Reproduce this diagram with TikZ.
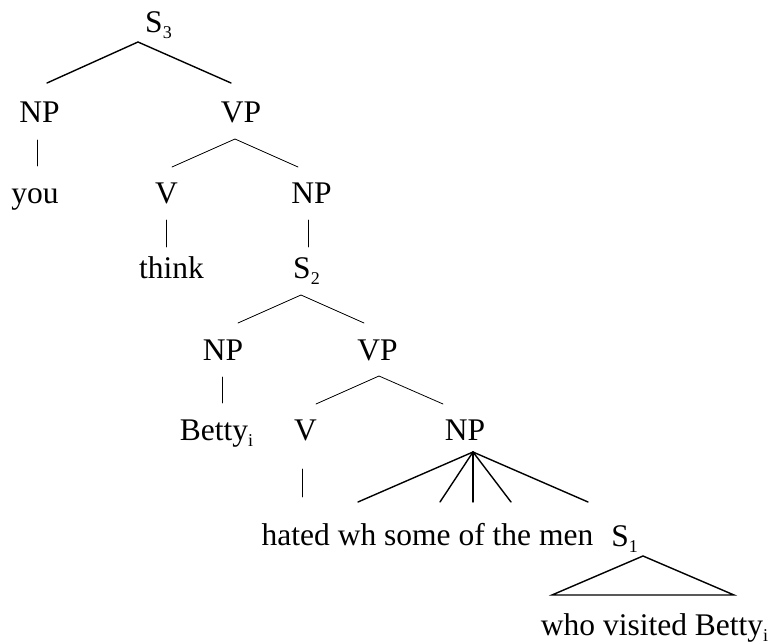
\documentclass[tikz,border=0pt]{standalone}
\usepackage{fontspec}
\setmainfont{Liberation Serif}
\newcommand{\lsub}[1]{\raisebox{-6pt}{\fontsize{18}{18}\selectfont #1}}
\tikzset{
  lbl/.style={anchor=base, inner sep=0pt, font=\fontsize{31.5}{34}\selectfont},
  edge/.style={line width=0.8pt, line cap=round},
  thick edge/.style={line width=1.4pt, line cap=round}
}
\begin{document}
\begin{tikzpicture}[x=1pt,y=-1pt]
\useasboundingbox (0,0) rectangle (773,644);
% labels
\node[lbl] (s3) at (158.5,33) {S\lsub{3}};
\node[lbl] (np1) at (39.5,123) {NP};
\node[lbl] (vp1) at (241,123) {VP};
\node[lbl] (you) at (35,204) {you};
\node[lbl] (v1) at (166.5,204) {V};
\node[lbl] (np2) at (311.5,204) {NP};
\node[lbl] (think) at (171.5,278) {think};
\node[lbl] (s2) at (306.5,278) {S\lsub{2}};
\node[lbl] (np3) at (223,360) {NP};
\node[lbl] (vp2) at (377.5,360) {VP};
\node[lbl] (betty) at (216.5,440) {Betty\lsub{i}};
\node[lbl] (v2) at (305.5,440) {V};
\node[lbl] (np4) at (465,440) {NP};
\node[lbl] (hated) at (427.5,545) {hated wh some of the men};
\node[lbl] (s1) at (624.5,546) {S\lsub{1}};
\node[lbl] (who) at (654.5,635) {who visited Betty\lsub{i}};
% connector points
\coordinate (s3a) at (138,42);
\coordinate (s3l) at (47,83);
\coordinate (s3r) at (231,83);
\coordinate (np1a) at (37.7,140);
\coordinate (np1b) at (37.7,166);
\coordinate (vp1a) at (235,139);
\coordinate (vp1l) at (172,167);
\coordinate (vp1r) at (298,167);
\coordinate (v1a) at (166,220);
\coordinate (v1b) at (166,247);
\coordinate (np2a) at (308,220);
\coordinate (np2b) at (308,247);
\coordinate (s2a) at (301,295);
\coordinate (s2l) at (238,323);
\coordinate (s2r) at (364,323);
\coordinate (np3a) at (222,377);
\coordinate (np3b) at (222,403);
\coordinate (vp2a) at (379,376);
\coordinate (vp2l) at (316,404);
\coordinate (vp2r) at (443,404);
\coordinate (v2a) at (302,469);
\coordinate (v2b) at (302,497);
\coordinate (np4a) at (473,452);
\coordinate (f1) at (358,502);
\coordinate (f2) at (440,502);
\coordinate (f3) at (473,502);
\coordinate (f4) at (511,502);
\coordinate (f5) at (588,502);
\coordinate (s1a) at (643,556);
\coordinate (s1l) at (552,595);
\coordinate (s1r) at (734,595);
% connectors
\draw[thick edge] (s3l) -- (s3a) -- (s3r);
\draw[edge] (np1a) -- (np1b);
\draw[edge] (vp1l) -- (vp1a) -- (vp1r);
\draw[edge] (v1a) -- (v1b);
\draw[edge] (np2a) -- (np2b);
\draw[edge] (s2l) -- (s2a) -- (s2r);
\draw[edge] (np3a) -- (np3b);
\draw[edge] (vp2l) -- (vp2a) -- (vp2r);
\draw[edge] (v2a) -- (v2b);
\foreach \f in {f1,f2,f3,f4,f5} \draw[thick edge] (np4a) -- (\f);
\draw[thick edge, line join=miter] (s1a) -- (s1l) -- (s1r) -- cycle;
\end{tikzpicture}
\end{document}
